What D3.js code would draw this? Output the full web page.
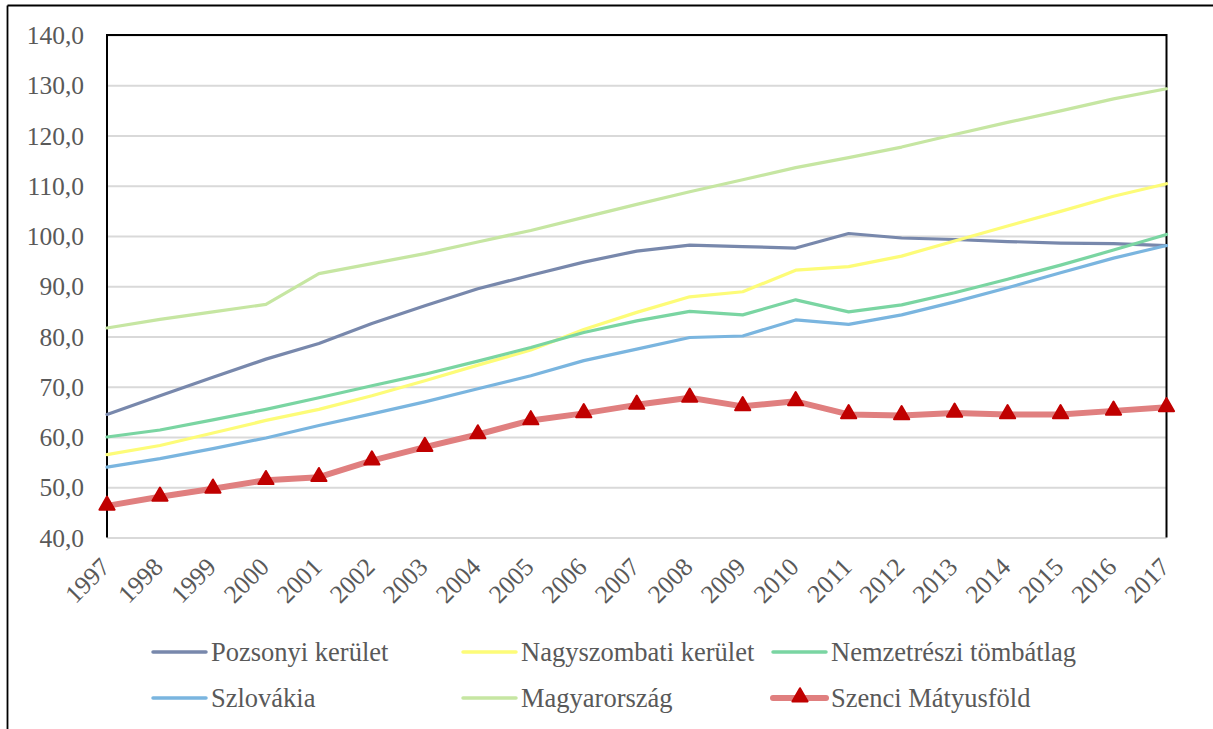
<!DOCTYPE html>
<html><head><meta charset="utf-8">
<script src="https://cdn.jsdelivr.net/npm/d3@7/dist/d3.min.js"></script>
<style>
html,body{margin:0;padding:0;background:#fff;}
svg{display:block;}
svg text{font-family:'Liberation Serif','Times New Roman',serif;}
</style>
</head><body>
<svg id="chart" width="1213" height="729"></svg>
<script>
const years = [1997,1998,1999,2000,2001,2002,2003,2004,2005,2006,2007,2008,2009,2010,2011,2012,2013,2014,2015,2016,2017];
const yTicks = [40,50,60,70,80,90,100,110,120,130,140];
const yTickLabels = ["40,0","50,0","60,0","70,0","80,0","90,0","100,0","110,0","120,0","130,0","140,0"];

const pozsonyi = [64.5,68.2,71.9,75.5,78.6,82.6,86.1,89.5,92.2,94.8,97.0,98.2,97.9,97.6,100.5,99.6,99.3,98.9,98.6,98.5,98.1];
const nagyszombati = [56.5,58.3,60.8,63.3,65.5,68.2,71.2,74.3,77.3,81.4,84.8,87.9,88.9,93.2,93.9,96.0,99.0,102.0,104.9,107.9,110.4];
const nemzetreszi = [60.0,61.4,63.4,65.5,67.8,70.2,72.5,75.1,77.8,80.8,83.1,85.0,84.3,87.3,84.9,86.3,88.7,91.4,94.2,97.2,100.3];
const szlovakia = [54.0,55.7,57.7,59.8,62.3,64.6,67.0,69.6,72.2,75.2,77.5,79.8,80.1,83.3,82.4,84.3,86.9,89.7,92.7,95.6,98.1];
const magyarorszag = [81.7,83.4,84.9,86.4,92.5,94.5,96.5,98.8,101.1,103.7,106.3,108.8,111.2,113.6,115.6,117.7,120.2,122.6,124.9,127.3,129.3];
const szenci = [46.3,48.1,49.7,51.4,52.0,55.3,58.0,60.5,63.3,64.7,66.4,67.8,66.1,67.1,64.5,64.3,64.8,64.5,64.5,65.2,65.9];

const seriesNames = ["Pozsonyi kerület","Nagyszombati kerület","Nemzetrészi tömbátlag","Szlovákia","Magyarország","Szenci Mátyusföld"];
const seriesColors = ["#7888ac","#fdfc78","#7ad5a2","#7ab5df","#c6e6a2","#e07f7f"];
const seriesValues = [pozsonyi, nagyszombati, nemzetreszi, szlovakia, magyarorszag, szenci];

const svg = d3.select("#chart");
const serifFont = "'Liberation Serif','Times New Roman',serif";
const textColor = "#595959";

const pL = 107, pR = 1166.5, pT = 35, pB = 537.5;
const x = d3.scaleLinear().domain([years[0], years[years.length-1]]).range([pL, pR]);
const y = d3.scaleLinear().domain([40,140]).range([pB, pT]);

// outer frame
svg.append("line").attr("x1",7.5).attr("x2",7.5).attr("y1",5.5).attr("y2",729).attr("stroke","#000").attr("stroke-width",1.8);
svg.append("line").attr("x1",7.5).attr("x2",1213).attr("y1",5.5).attr("y2",5.5).attr("stroke","#000").attr("stroke-width",1.8);

// gridlines + y labels
const yAxis = d3.axisLeft(y).tickValues(yTicks).tickSize(-(pR-pL)).tickFormat((d,i)=>yTickLabels[i]).tickPadding(23);
const gy = svg.append("g").attr("transform",`translate(${pL},0)`).call(yAxis)
  .attr("font-family",serifFont).attr("font-size",25.5);
gy.select(".domain").remove();
gy.selectAll(".tick line").attr("stroke","#d9d9d9").attr("stroke-width",2);
gy.selectAll(".tick text").attr("fill",textColor).attr("dy","0.34em");

// plot frame (left, top, right black)
svg.append("path").attr("d",`M${pL},${pB} V${pT} H${pR} V${pB}`).attr("fill","none").attr("stroke","#000").attr("stroke-width",2);

// x axis labels
const xAxis = d3.axisBottom(x).tickValues(years).tickSize(0).tickFormat(d3.format("d"));
const gx = svg.append("g").attr("transform",`translate(0,${pB})`).call(xAxis)
  .attr("font-family",serifFont).attr("font-size",25.5);
gx.select(".domain").remove();
gx.selectAll(".tick text")
  .attr("fill",textColor)
  .attr("text-anchor","end").attr("dy",0).attr("y",0)
  .attr("transform","translate(4,31) rotate(-45)");

// lines
const line = d3.line().x((d,i)=>x(years[i])).y(d=>y(d));
seriesValues.forEach((vals,k)=>{
  svg.append("path").datum(vals).attr("d",line).attr("fill","none")
    .attr("stroke",seriesColors[k]).attr("stroke-width",k===5?6:3.2)
    .attr("stroke-linejoin","round").attr("stroke-linecap","round");
});

// markers
const tri = d3.symbol().type(d3.symbolTriangle).size(100);
svg.append("g").selectAll("path").data(szenci).join("path")
  .attr("d",tri).attr("transform",(d,i)=>`translate(${x(years[i])},${y(d)-0.5})`)
  .attr("fill","#c00000").attr("stroke","#c00000").attr("stroke-width",2).attr("stroke-linejoin","round");

// legend
const legX = [153, 463, 773];
const legY = [652, 698];
const legend = svg.append("g").attr("font-family",serifFont).attr("font-size",26.5);
seriesNames.forEach((name,k)=>{
  const col = k%3, row = Math.floor(k/3);
  const lx = legX[col], ly = legY[row];
  const g = legend.append("g");
  g.append("line").attr("x1",lx).attr("x2",lx+53).attr("y1",ly).attr("y2",ly)
    .attr("stroke",seriesColors[k]).attr("stroke-width",k===5?6:3.5).attr("stroke-linecap","round");
  if(k===5){
    g.append("path").attr("d",tri).attr("transform",`translate(${lx+27},${ly-1})`)
      .attr("fill","#c00000").attr("stroke","#c00000").attr("stroke-width",2).attr("stroke-linejoin","round");
  }
  g.append("text").attr("x",lx+58).attr("y",ly).attr("dy","0.33em")
    .attr("fill",textColor).text(name);
});
</script>
</body></html>
